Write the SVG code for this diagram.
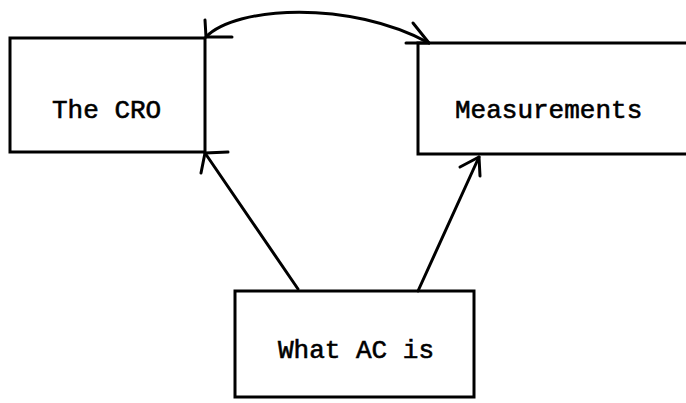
<svg xmlns="http://www.w3.org/2000/svg" width="686" height="403" viewBox="0 0 686 403">
  <style>
    .box { fill: none; stroke: #000; stroke-width: 3; stroke-linejoin: miter; stroke-linecap: square; }
    .lbl { font-family: "Liberation Mono", "Courier New", monospace; font-size: 26px; fill: #000; stroke: #000; stroke-width: 0.6; }
    .edge { fill: none; stroke: #000; stroke-width: 3; stroke-linecap: round; stroke-linejoin: round; }
  </style>
  <rect width="686" height="403" fill="#fff"/>

  <g id="node-cro">
    <rect class="box" x="10" y="38" width="195" height="114"/>
    <text class="lbl" x="52" y="118">The CRO</text>
  </g>

  <g id="node-measurements">
    <path class="box" d="M690,43 L418,43 L418,154 L690,154"/>
    <text class="lbl" x="455" y="118">Measurements</text>
  </g>

  <g id="node-ac">
    <rect class="box" x="235" y="291" width="239" height="106"/>
    <text class="lbl" x="278" y="358">What AC is</text>
  </g>

  <g id="connectors">
    <!-- two-way link between the top boxes -->
    <path class="edge" d="M206,37 C236,6 350,0 429,43"/>
    <path class="edge" d="M205,20 L206,37 L232,37"/>
    <path class="edge" d="M413,23 L429,43 L406,43"/>
    <!-- What AC is -> The CRO -->
    <path class="edge" d="M298,289 L205,153"/>
    <path class="edge" d="M228,152 L205,153 L201,173"/>
    <!-- What AC is -> Measurements -->
    <path class="edge" d="M418,291 L479,157"/>
    <path class="edge" d="M460,167 L479,157 L480,176"/>
  </g>
</svg>
